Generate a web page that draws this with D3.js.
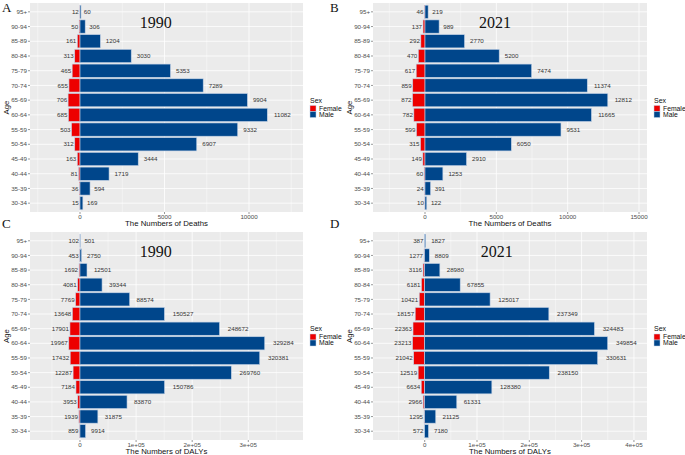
<!DOCTYPE html>
<html>
<head>
<meta charset="utf-8">
<script src="https://cdn.jsdelivr.net/npm/d3@7"></script>
<style>
  body { margin: 0; background: #fff; }
  svg { display: block; }
  text { font-family: "Liberation Sans", Arial, sans-serif; }
</style>
</head>
<body>
<svg width="685" height="455"></svg>
<script>
"use strict";

// age groups, top row first
const ageGroups = ["95+", "90-94", "85-89", "80-84", "75-79", "70-74", "65-69",
    "60-64", "55-59", "50-54", "45-49", "40-44", "35-39", "30-34"];

const deaths1990Female = [12, 50, 161, 313, 465, 655, 706, 685, 503, 312, 163, 81, 36, 15];
const deaths1990Male = [60, 306, 1204, 3030, 5353, 7289, 9904, 11082, 9332, 6907, 3444, 1719, 594, 169];
const deaths2021Female = [46, 137, 292, 470, 617, 859, 872, 782, 599, 315, 149, 60, 24, 10];
const deaths2021Male = [219, 989, 2770, 5200, 7474, 11374, 12812, 11665, 9531, 6050, 2910, 1253, 391, 122];

const dalys1990Female = [102, 453, 1692, 4081, 7769, 13648, 17901, 19967, 17432, 12287, 7184, 3953, 1939, 859];
const dalys1990Male = [501, 2750, 12501, 39344, 88574, 150527, 248672, 329284, 320381, 269760, 150786, 83870, 31875, 9914];
const dalys2021Female = [387, 1277, 3116, 6181, 10421, 18157, 22363, 23213, 21042, 12519, 6634, 2966, 1295, 572];
const dalys2021Male = [1827, 8809, 28980, 67855, 125017, 237349, 324483, 349854, 330631, 238150, 128380, 61331, 21125, 7180];

const deathTicks1990 = [0, 5000, 10000];
const deathTicks2021 = [0, 5000, 10000, 15000];
const dalyTicks1990 = [0, 100000, 200000, 300000];
const dalyTicks2021 = [0, 100000, 200000, 300000, 400000];
const dalyTickLabels = ["0", "1e+05", "2e+05", "3e+05", "4e+05"];

const sexes = ["Female", "Male"];
const sexColors = ["#ED0000", "#00468B"];

const svg = d3.select("svg");

const panels = [
    {letter: "A", year: "1990", female: deaths1990Female, male: deaths1990Male, ticks: deathTicks1990,
     fmt: d => String(d), title: "The Numbers of Deaths", domain: [-2960, 13195], yearX: 4480,
     left: 30, right: 303, top: 3, bottom: 212, lx: 2, ly: 12},
    {letter: "B", year: "2021", female: deaths2021Female, male: deaths2021Male, ticks: deathTicks2021,
     fmt: d => String(d), title: "The Numbers of Deaths", domain: [-3645, 15560], yearX: 4900,
     left: 373, right: 647, top: 3, bottom: 212, lx: 330, ly: 12},
    {letter: "C", year: "1990", female: dalys1990Female, male: dalys1990Male, ticks: dalyTicks1990,
     fmt: (d, i) => dalyTickLabels[i], title: "The Numbers of DALYs", domain: [-89100, 397500], yearX: 135000,
     left: 30, right: 303, top: 232, bottom: 440, lx: 2, ly: 228},
    {letter: "D", year: "2021", female: dalys2021Female, male: dalys2021Male, ticks: dalyTicks2021,
     fmt: (d, i) => dalyTickLabels[i], title: "The Numbers of DALYs", domain: [-98850, 425000], yearX: 137600,
     left: 373, right: 647, top: 232, bottom: 440, lx: 330, ly: 228}
];

panels.forEach(drawPanel);

function drawPanel(p) {
    const g = svg.append("g");
    const x = d3.scaleLinear().domain(p.domain).range([p.left, p.right]);
    const y = d3.scaleBand().domain(ageGroups).range([p.top, p.bottom])
        .paddingInner(0.1).paddingOuter(0.15);
    const step = y.step();

    // panel background + grid
    g.append("rect")
        .attr("x", p.left).attr("y", p.top)
        .attr("width", p.right - p.left).attr("height", p.bottom - p.top)
        .attr("fill", "#EBEBEB");

    const tstep = p.ticks[1] - p.ticks[0];
    const minors = [];
    for (let m = p.ticks[0] - tstep / 2; m <= p.ticks[p.ticks.length - 1] + tstep / 2; m += tstep) {
        if (m > p.domain[0] && m < p.domain[1]) minors.push(m);
    }
    g.selectAll(".minor").data(minors).join("line")
        .attr("x1", d => x(d)).attr("x2", d => x(d))
        .attr("y1", p.top).attr("y2", p.bottom)
        .attr("stroke", "#fff").attr("stroke-width", 0.4);
    g.selectAll(".major").data(p.ticks).join("line")
        .attr("x1", d => x(d)).attr("x2", d => x(d))
        .attr("y1", p.top).attr("y2", p.bottom)
        .attr("stroke", "#fff").attr("stroke-width", 0.8);
    g.selectAll(".hgrid").data(ageGroups).join("line")
        .attr("x1", p.left).attr("x2", p.right)
        .attr("y1", d => y(d) + y.bandwidth() / 2).attr("y2", d => y(d) + y.bandwidth() / 2)
        .attr("stroke", "#fff").attr("stroke-width", 0.8);

    // bars
    g.selectAll(".fbar").data(p.female).join("rect")
        .attr("x", d => x(-d)).attr("y", (d, i) => y(ageGroups[i]))
        .attr("width", d => x(0) - x(-d)).attr("height", y.bandwidth())
        .attr("fill", sexColors[0]).attr("stroke", "#C3D3E6").attr("stroke-width", 0.6);
    g.selectAll(".mbar").data(p.male).join("rect")
        .attr("x", x(0)).attr("y", (d, i) => y(ageGroups[i]))
        .attr("width", d => x(d) - x(0)).attr("height", y.bandwidth())
        .attr("fill", sexColors[1]).attr("stroke", "#C3D3E6").attr("stroke-width", 0.6);

    // value labels
    g.selectAll(".flab").data(p.female).join("text")
        .attr("x", d => x(-d) - 1).attr("y", (d, i) => y(ageGroups[i]) + y.bandwidth() / 2)
        .attr("dy", "0.35em").attr("text-anchor", "end")
        .attr("font-size", 6.2).attr("fill", "#333")
        .text(d => d);
    g.selectAll(".mlab").data(p.male).join("text")
        .attr("x", d => x(d)).attr("y", (d, i) => y(ageGroups[i]) + y.bandwidth() / 2)
        .attr("dy", "0.35em").attr("text-anchor", "start")
        .attr("font-size", 6.2).attr("fill", "#333")
        .text(d => d)
        .each(function () {
            const w = this.getComputedTextLength();
            d3.select(this).attr("dx", 0.4 * w);
        });

    // year annotation
    g.append("text")
        .attr("x", x(p.yearX))
        .attr("y", y("90-94") + y.bandwidth() / 2 - 0.3 * step)
        .attr("dy", "0.35em").attr("text-anchor", "middle")
        .attr("font-family", "'Liberation Serif', 'Times New Roman', serif")
        .style("font-family", "'Liberation Serif', 'Times New Roman', serif")
        .attr("font-size", 16).attr("fill", "#111")
        .text(p.year);

    // y axis
    g.selectAll(".ytick").data(ageGroups).join("line")
        .attr("x1", p.left - 2).attr("x2", p.left)
        .attr("y1", d => y(d) + y.bandwidth() / 2).attr("y2", d => y(d) + y.bandwidth() / 2)
        .attr("stroke", "#333").attr("stroke-width", 0.5);
    g.selectAll(".ylab").data(ageGroups).join("text")
        .attr("x", p.left - 3).attr("y", d => y(d) + y.bandwidth() / 2)
        .attr("dy", "0.35em").attr("text-anchor", "end")
        .attr("font-size", 6.2).attr("fill", "#4D4D4D")
        .text(d => d);

    // x axis
    g.selectAll(".xtick").data(p.ticks).join("line")
        .attr("x1", d => x(d)).attr("x2", d => x(d))
        .attr("y1", p.bottom).attr("y2", p.bottom + 2)
        .attr("stroke", "#333").attr("stroke-width", 0.5);
    g.selectAll(".xlab").data(p.ticks).join("text")
        .attr("x", d => x(d)).attr("y", p.bottom + 7)
        .attr("text-anchor", "middle")
        .attr("font-size", 6.2).attr("fill", "#4D4D4D")
        .text(p.fmt);

    // axis titles
    g.append("text")
        .attr("x", (p.left + p.right) / 2).attr("y", p.bottom + 14)
        .attr("text-anchor", "middle").attr("font-size", 7.8).attr("fill", "#111")
        .text(p.title);
    const cy = (p.top + p.bottom) / 2;
    g.append("text")
        .attr("transform", `translate(${p.left - 21},${cy}) rotate(-90)`)
        .attr("text-anchor", "middle").attr("font-size", 7.8).attr("fill", "#111")
        .text("Age");

    // legend
    const lg = g.append("g").attr("transform", `translate(${p.right + 7},${cy - 11})`);
    lg.append("text").attr("x", 0).attr("y", 6)
        .attr("font-size", 7).attr("fill", "#111").text("Sex");
    sexes.forEach((s, i) => {
        lg.append("rect").attr("x", 0).attr("y", 9 + i * 6)
            .attr("width", 6).attr("height", 6)
            .attr("fill", sexColors[i]).attr("stroke", "#C3D3E6").attr("stroke-width", 0.5);
        lg.append("text").attr("x", 9).attr("y", 12 + i * 6)
            .attr("dy", "0.35em").attr("font-size", 6.8).attr("fill", "#111").text(s);
    });

    // panel letter
    svg.append("text")
        .attr("x", p.lx).attr("y", p.ly)
        .style("font-family", "'Liberation Serif', 'Times New Roman', serif")
        .attr("font-size", 13).attr("fill", "#111")
        .text(p.letter);
}
</script>
</body>
</html>
